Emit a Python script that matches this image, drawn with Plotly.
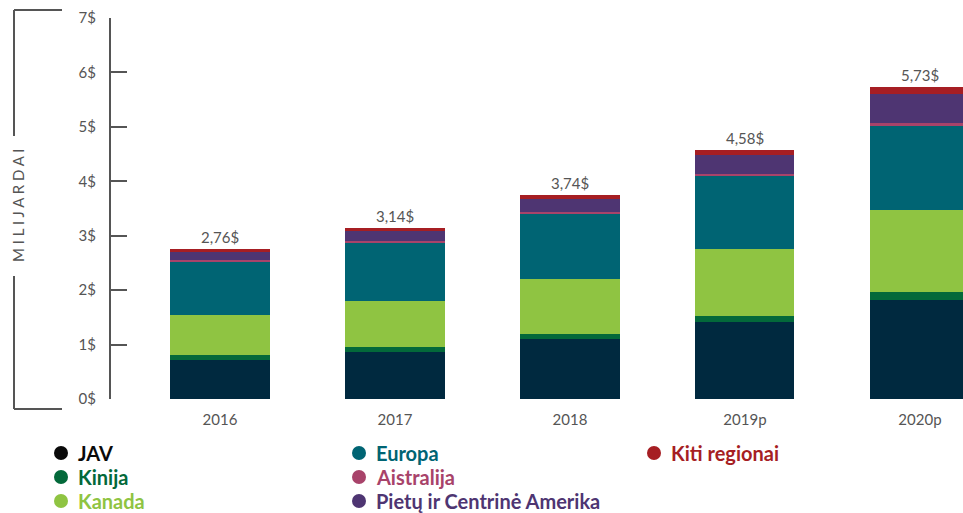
import plotly.graph_objects as go

years = ["2016", "2017", "2018", "2019p", "2020p"]
jav = [0.72, 0.86, 1.10, 1.42, 1.82]
kinija = [0.09, 0.09, 0.09, 0.11, 0.15]
kanada = [0.73, 0.85, 1.02, 1.23, 1.51]
europa = [0.99, 1.06, 1.19, 1.34, 1.53]
aistralija = [0.02, 0.04, 0.04, 0.04, 0.07]
pietu = [0.16, 0.18, 0.23, 0.34, 0.52]
kiti = [0.05, 0.06, 0.07, 0.10, 0.13]
total_labels = ["2,76$", "3,14$", "3,74$", "4,58$", "5,73$"]
y_ticks = [0, 1, 2, 3, 4, 5, 6, 7]
y_ticktext = ["0$", "1$", "2$", "3$", "4$", "5$", "6$", "7$"]

series = [
    ("JAV", jav, "#00293F", "#0A0A0A"),
    ("Kinija", kinija, "#03693A", "#03693A"),
    ("Kanada", kanada, "#8FC442", "#8FC442"),
    ("Europa", europa, "#006473", "#006473"),
    ("Aistralija", aistralija, "#A8436A", "#A8436A"),
    ("Pietų ir Centrinė Amerika", pietu, "#4E3572", "#4E3572"),
    ("Kiti regionai", kiti, "#A61E23", "#A61E23"),
]

GRAY = "#555555"
FONT = "Lato"

fig = go.Figure()
for name, vals, col, _ in series:
    fig.add_trace(go.Bar(x=list(range(len(years))), y=vals, name=name,
                         marker=dict(color=col, line=dict(width=0)),
                         width=0.566, showlegend=False))

totals = [sum(s[1][i] for s in series) for i in range(len(years))]
for i, (t, lab) in enumerate(zip(totals, total_labels)):
    fig.add_annotation(x=i, y=t, text=lab, showarrow=False, yanchor="bottom",
                       yshift=1, font=dict(family=FONT, size=15, color=GRAY))

# plot area geometry (pixels)
W, H = 963, 513
L, R, T, B = 111, 0, 18, 114
pw, ph = W - L - R, H - T - B


def px(p):
    return (p - L) / pw


def py(q):
    return (H - B - q) / ph


# custom legend
legend_pos = [(0, 0), (0, 1), (0, 2), (1, 0), (1, 1), (1, 2), (2, 0)]
col_x = [61, 359, 654]
row_y = [453, 477, 501]
for (name, _, _, lcol), (c, r) in zip(series, legend_pos):
    cx, cy = col_x[c], row_y[r]
    fig.add_shape(type="circle", xref="paper", yref="paper",
                  xsizemode="pixel", ysizemode="pixel",
                  xanchor=px(cx), yanchor=py(cy),
                  x0=-7, x1=7, y0=-7, y1=7,
                  fillcolor=lcol, line=dict(width=0))
    fig.add_annotation(xref="paper", yref="paper", x=px(cx + 15), y=py(cy),
                       text="<b>" + name + "</b>", showarrow=False,
                       xanchor="left", yanchor="middle",
                       font=dict(family=FONT, size=20, color=lcol))

# bracket around axis title
bx, bx2 = 14, 62
for (x0, y0, x1, y1) in [(bx, 10, bx2, 10), (bx, 10, bx, 136),
                         (bx, 276, bx, 409), (bx, 409, bx2, 409)]:
    fig.add_shape(type="line", xref="paper", yref="paper",
                  x0=px(x0), y0=py(y0), x1=px(x1), y1=py(y1),
                  line=dict(color=GRAY, width=2))

fig.add_annotation(xref="paper", yref="paper", x=px(18), y=py(206),
                   text=" ".join("MILIJARDAI"), textangle=-90,
                   showarrow=False, xanchor="center", yanchor="middle",
                   font=dict(family=FONT, size=15, color=GRAY))

fig.update_layout(
    barmode="stack",
    width=W, height=H,
    margin=dict(l=L, r=R, t=T, b=B, pad=0),
    plot_bgcolor="white", paper_bgcolor="white",
    bargap=0,
    xaxis=dict(range=[-0.623, 4.246], tickvals=list(range(len(years))),
               ticktext=years, showgrid=False, zeroline=False, showline=False,
               ticks="", ticklabelstandoff=10,
               tickfont=dict(family=FONT, size=15, color=GRAY)),
    yaxis=dict(range=[0, 7], tickvals=y_ticks, ticktext=y_ticktext,
               showgrid=False, zeroline=False, showline=True,
               linecolor=GRAY, linewidth=2, ticks="inside", ticklen=16,
               tickwidth=2, tickcolor=GRAY, ticklabelstandoff=10,
               tickfont=dict(family=FONT, size=15, color=GRAY)),
)

fig.write_html("out.html", config={"displayModeBar": False},
               post_script="document.body.style.margin='0';"
                           "document.body.style.padding='0';"
                           "document.body.style.overflow='hidden';")
